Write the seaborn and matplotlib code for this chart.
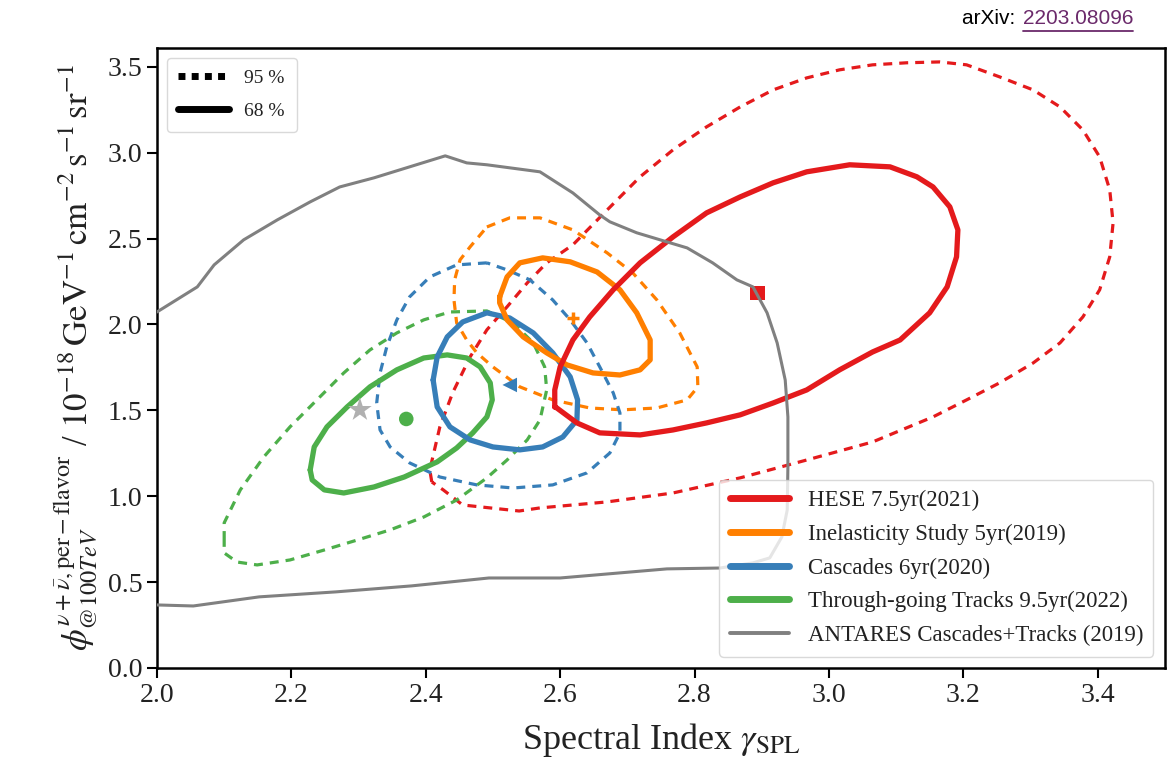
import numpy as np
import pandas as pd
import matplotlib
matplotlib.use('Agg')
import matplotlib.pyplot as plt
import seaborn as sns
from matplotlib.lines import Line2D

# contour points: spectral index gamma, flux phi
hese68_g = [2.592, 2.592, 2.600, 2.619, 2.644, 2.679, 2.719, 2.768, 2.818, 2.868, 2.917, 2.967, 3.031,
            3.091, 3.131, 3.155, 3.180, 3.192, 3.190, 3.176, 3.150, 3.106, 3.065, 3.016, 2.967, 2.917,
            2.868, 2.818, 2.768, 2.719, 2.659, 2.625, 2.595]
hese68_phi = [1.520, 1.619, 1.753, 1.910, 2.044, 2.202, 2.359, 2.510, 2.650, 2.743, 2.825, 2.889, 2.930,
              2.918, 2.860, 2.801, 2.685, 2.551, 2.394, 2.219, 2.068, 1.910, 1.840, 1.736, 1.619, 1.543,
              1.474, 1.427, 1.386, 1.357, 1.369, 1.427, 1.514]

hese95_g = [2.409, 2.406, 2.421, 2.440, 2.466, 2.491, 2.521, 2.551, 2.580, 2.619, 2.670, 2.719, 2.768,
            2.818, 2.868, 2.917, 2.967, 3.016, 3.065, 3.116, 3.165, 3.205, 3.254, 3.304, 3.344, 3.378,
            3.403, 3.418, 3.423, 3.418, 3.403, 3.378, 3.344, 3.304, 3.254, 3.205, 3.155, 3.065, 2.967,
            2.868, 2.768, 2.670, 2.570, 2.539, 2.455, 2.426]
hese95_phi = [1.083, 1.153, 1.404, 1.602, 1.811, 1.969, 2.103, 2.242, 2.359, 2.464, 2.667, 2.860, 3.017,
              3.151, 3.267, 3.366, 3.436, 3.483, 3.512, 3.524, 3.529, 3.512, 3.442, 3.366, 3.267, 3.133,
              2.976, 2.784, 2.592, 2.394, 2.202, 2.044, 1.893, 1.776, 1.660, 1.561, 1.462, 1.316, 1.211,
              1.107, 1.019, 0.967, 0.932, 0.914, 0.949, 1.037]

inel68_g = [2.510, 2.521, 2.540, 2.574, 2.615, 2.655, 2.689, 2.714, 2.734, 2.734, 2.719, 2.689, 2.649,
            2.610, 2.580, 2.545, 2.521, 2.510]
inel68_phi = [2.161, 2.277, 2.359, 2.388, 2.365, 2.306, 2.202, 2.068, 1.910, 1.794, 1.736, 1.706, 1.718,
              1.765, 1.835, 1.928, 2.027, 2.126]

inel95_g = [2.491, 2.525, 2.570, 2.619, 2.670, 2.708, 2.744, 2.778, 2.804, 2.805, 2.789, 2.744, 2.693,
            2.644, 2.589, 2.540, 2.500, 2.476, 2.461, 2.446, 2.442, 2.443, 2.451, 2.466]
inel95_phi = [2.568, 2.621, 2.621, 2.551, 2.417, 2.301, 2.143, 1.951, 1.753, 1.637, 1.561, 1.514, 1.503,
              1.514, 1.561, 1.637, 1.753, 1.835, 1.910, 2.009, 2.143, 2.260, 2.376, 2.452]

casc68_g = [2.411, 2.417, 2.432, 2.455, 2.491, 2.525, 2.560, 2.589, 2.615, 2.626, 2.625, 2.604, 2.574,
            2.540, 2.500, 2.466, 2.436, 2.417]
casc68_phi = [1.677, 1.811, 1.928, 2.015, 2.068, 2.038, 1.951, 1.835, 1.695, 1.561, 1.444, 1.345, 1.287,
              1.270, 1.287, 1.328, 1.404, 1.520]

casc95_g = [2.491, 2.446, 2.406, 2.376, 2.357, 2.342, 2.332, 2.327, 2.332, 2.347, 2.376, 2.421, 2.476,
            2.530, 2.589, 2.640, 2.674, 2.689, 2.689, 2.679, 2.659, 2.640, 2.615, 2.589, 2.555, 2.521]
casc95_phi = [2.359, 2.347, 2.277, 2.161, 2.027, 1.870, 1.718, 1.543, 1.386, 1.287, 1.194, 1.112, 1.066,
              1.048, 1.066, 1.136, 1.252, 1.369, 1.485, 1.602, 1.753, 1.893, 2.027, 2.143, 2.260, 2.318]

trk68_g = [2.228, 2.234, 2.253, 2.283, 2.317, 2.357, 2.397, 2.432, 2.461, 2.481, 2.496, 2.499, 2.491,
           2.470, 2.446, 2.417, 2.368, 2.323, 2.278, 2.249, 2.231]
trk68_phi = [1.153, 1.287, 1.404, 1.520, 1.637, 1.736, 1.805, 1.823, 1.805, 1.753, 1.660, 1.561, 1.462,
             1.369, 1.281, 1.200, 1.112, 1.054, 1.019, 1.037, 1.095]

trk95_g = [2.100, 2.100, 2.124, 2.159, 2.198, 2.238, 2.278, 2.317, 2.357, 2.397, 2.436, 2.491, 2.530,
           2.560, 2.577, 2.580, 2.570, 2.551, 2.521, 2.491, 2.446, 2.397, 2.347, 2.298, 2.249, 2.198,
           2.149, 2.119, 2.100]
trk95_phi = [0.745, 0.845, 1.037, 1.229, 1.404, 1.561, 1.718, 1.852, 1.951, 2.027, 2.073, 2.079, 2.009,
             1.893, 1.753, 1.619, 1.444, 1.328, 1.211, 1.107, 0.978, 0.879, 0.804, 0.745, 0.687, 0.629,
             0.600, 0.617, 0.670]

antares_g = [2.000, 2.060, 2.085, 2.129, 2.179, 2.228, 2.272, 2.323, 2.376, 2.429, 2.461, 2.491, 2.570,
             2.619, 2.659, 2.674, 2.714, 2.759, 2.789, 2.827, 2.863, 2.887, 2.908, 2.923, 2.935, 2.939,
             2.939, 2.938, 2.930, 2.912, 2.887, 2.838, 2.759, 2.600, 2.494, 2.379, 2.266, 2.152, 2.054,
             2.000]
antares_phi = [2.073, 2.219, 2.347, 2.493, 2.609, 2.714, 2.801, 2.854, 2.918, 2.982, 2.941, 2.930, 2.889,
               2.766, 2.638, 2.598, 2.534, 2.481, 2.446, 2.359, 2.260, 2.219, 2.068, 1.893, 1.677, 1.462,
               1.171, 0.920, 0.763, 0.641, 0.612, 0.582, 0.577, 0.524, 0.524, 0.478, 0.443, 0.414, 0.361,
               0.367]

# best fit points
bf_names = ['HESE', 'Inelasticity', 'Cascades', 'Tracks', 'ANTARES']
bf_g = [2.894, 2.619, 2.525, 2.371, 2.302]
bf_phi = [2.184, 2.038, 1.648, 1.450, 1.503]

labels = ['HESE 7.5yr(2021)', 'Inelasticity Study 5yr(2019)', 'Cascades 6yr(2020)',
          'Through-going Tracks 9.5yr(2022)', 'ANTARES Cascades+Tracks (2019)']
colors = ['#e41a1c', '#ff7f00', '#377eb8', '#4daf4a', '#808080']

sns.set_theme(style="ticks")
plt.rcParams['font.family'] = ['Liberation Serif', 'DejaVu Serif']
plt.rcParams['mathtext.fontset'] = 'stix'

fig = plt.figure(figsize=(11.76, 7.62), dpi=100)
ax = fig.add_axes([0.1335, 0.1234, 0.857, 0.8136])


def contour(g, phi, color, dashed, z):
    g = list(g) + [g[0]]
    phi = list(phi) + [phi[0]]
    if dashed:
        sns.lineplot(x=g, y=phi, sort=False, estimator=None, color=color, linewidth=2.3,
                     linestyle=(0, (2.8, 2.2)), dash_joinstyle='round', ax=ax, zorder=z)
    else:
        sns.lineplot(x=g, y=phi, sort=False, estimator=None, color=color, linewidth=3.8,
                     solid_joinstyle='round', ax=ax, zorder=z)


contour(hese95_g, hese95_phi, colors[0], True, 2)
contour(inel95_g, inel95_phi, colors[1], True, 2)
contour(casc95_g, casc95_phi, colors[2], True, 2)
contour(trk95_g, trk95_phi, colors[3], True, 2)
contour(trk68_g, trk68_phi, colors[3], False, 3)
contour(casc68_g, casc68_phi, colors[2], False, 3)
contour(inel68_g, inel68_phi, colors[1], False, 3)
contour(hese68_g, hese68_phi, colors[0], False, 3)

# best fit markers
sns.scatterplot(x=[bf_g[0]], y=[bf_phi[0]], marker='s', s=110, color=colors[0], edgecolor='none', ax=ax, zorder=4)
ax.scatter([bf_g[1]], [bf_phi[1]], marker='+', s=70, color=colors[1], linewidths=2.5, zorder=4)
sns.scatterplot(x=[bf_g[2]], y=[bf_phi[2]], marker='<', s=110, color=colors[2], edgecolor='none', ax=ax, zorder=4)
sns.scatterplot(x=[bf_g[3]], y=[bf_phi[3]], marker='o', s=110, color=colors[3], edgecolor='none', ax=ax, zorder=4)
sns.scatterplot(x=[bf_g[4]], y=[bf_phi[4]], marker='*', s=320, color='#b0b0b0', edgecolor='none', ax=ax, zorder=4)

sns.lineplot(x=antares_g, y=antares_phi, sort=False, estimator=None, color=colors[4],
             linewidth=2.2, solid_joinstyle='round', ax=ax, zorder=5)

ax.set_xlim(2.0, 3.5)
ax.set_ylim(0, 3.61)
ax.set_xticks(np.arange(2.0, 3.41, 0.2))
ax.set_yticks(np.arange(0, 3.51, 0.5))
ax.set_xticklabels([f'{v:.1f}' for v in np.arange(2.0, 3.41, 0.2)])
ax.set_yticklabels([f'{v:.1f}' for v in np.arange(0, 3.51, 0.5)])
ax.tick_params(axis='both', labelsize=20, length=7, width=1.5, color='black', labelcolor='#222222')
for sp in ax.spines.values():
    sp.set_visible(True)
    sp.set_linewidth(1.8)
    sp.set_color('black')

ax.set_xlabel(r'Spectral Index $\gamma_{\mathrm{SPL}}$', fontsize=26, color='#222222', labelpad=10)
ax.set_ylabel(r'$\phi_{@100TeV}^{\nu+\bar{\nu},\mathrm{per-flavor}}$ / $10^{-18}\,\mathrm{GeV}^{-1}\,\mathrm{cm}^{-2}\,\mathrm{s}^{-1}\,\mathrm{sr}^{-1}$',
              fontsize=25, color='#222222', labelpad=6)

# CL legend
cl_handles = [Line2D([], [], color='black', lw=5, linestyle=(0, (1, 0.9))),
              Line2D([], [], color='black', lw=5, solid_capstyle='round')]
leg1 = ax.legend(cl_handles, ['95 %', '68 %'], loc='upper left', fontsize=14, handlelength=2.6,
                 frameon=True, framealpha=0.8, edgecolor='#d0d0d0', borderpad=0.6, labelspacing=0.8)
ax.add_artist(leg1)

ds_handles = [Line2D([], [], color=c, lw=5, solid_capstyle='round') for c in colors[:4]]
ds_handles.append(Line2D([], [], color=colors[4], lw=2.8))
leg2 = ax.legend(ds_handles, labels, loc='lower right', fontsize=16.5, handlelength=2.6,
                 frameon=True, framealpha=0.8, edgecolor='#d0d0d0', labelspacing=0.55,
                 borderpad=0.45)
for t in leg2.get_texts():
    t.set_color('#222222')
for t in leg1.get_texts():
    t.set_color('#222222')

# source note
fig.text(0.8685, 0.976, 'arXiv: ', ha='right', va='center', fontsize=15, family='Liberation Sans', color='black')
fig.text(0.9635, 0.976, '2203.08096', ha='right', va='center', fontsize=15, family='Liberation Sans', color='#6b2a6b')
fig.add_artist(Line2D([0.870, 0.9635], [0.9595, 0.9595], transform=fig.transFigure, color='#6b2a6b', lw=1.3))

plt.savefig('out.png', dpi=100)
plt.close()
